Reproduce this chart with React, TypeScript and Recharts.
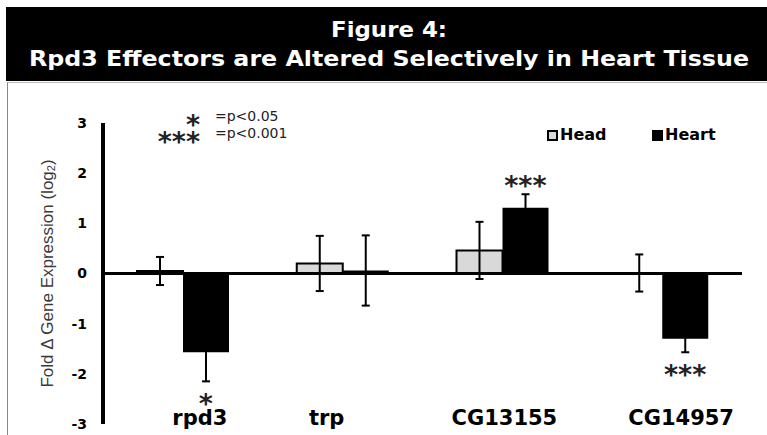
import React from "react";
import {
  BarChart,
  Bar,
  XAxis,
  YAxis,
  ErrorBar,
  ReferenceLine,
  ReferenceDot,
  Legend,
} from "recharts";

const genes = ["rpd3", "trp", "CG13155", "CG14957"];
const headVals = [0.05, 0.2, 0.46, 0.01];
const headErr = [0.28, 0.55, 0.57, 0.37];
const heartVals = [-1.57, 0.06, 1.31, -1.3];
const heartErr = [0.58, 0.7, 0.27, 0.27];
const heartSig = ["*", "", "***", "***"];
const yTicks = [-3, -2, -1, 0, 1, 2, 3];
const sigMarks = ["*", "***"];
const sigTexts = ["=p<0.05", "=p<0.001"];

const BAR = 46;
const STAR_GAP = 0.31; // distance past the error bar, in log2 units
const tickNudge = [17, -16, 2, 19];
const BOLD = "'DejaVu Sans', Verdana, sans-serif";
const PLOT = { left: 103, top: 123, bottom: 424 };

const rows = genes.map((g, i) => {
  const sign = heartVals[i] < 0 ? -1 : 1;
  return {
    gene: g,
    head: headVals[i],
    headErr: headErr[i],
    heart: heartVals[i],
    heartErr: heartErr[i],
    sig: heartSig[i],
    sigY: heartVals[i] + sign * (heartErr[i] + STAR_GAP),
  };
});

const GeneTick = (p: any) => (
  <text
    x={p.x + tickNudge[p.index]}
    y={p.y + 1}
    textAnchor="middle"
    fontFamily={BOLD}
    fontWeight="bold"
    fontSize={21}
    fill="#000"
  >
    {p.payload.value}
  </text>
);

const YTitle = (p: any) => {
  const vb = p.viewBox || {};
  const x0 = vb.x || 0;
  const y0 = vb.y || PLOT.top;
  const h = vb.height || PLOT.bottom - PLOT.top;
  const cx = x0 + 47;
  const cy = y0 + h / 2;
  return (
    <text
      x={cx}
      y={cy}
      transform={`rotate(-90 ${cx} ${cy})`}
      textAnchor="middle"
      dominantBaseline="central"
      fontFamily="'Liberation Sans', Arial, sans-serif"
      fontSize={17}
      fill="#3a3a3a"
    >
      Fold Δ Gene Expression (log
      <tspan fontSize={11} dy={4}>
        2
      </tspan>
      <tspan dy={-4}>)</tspan>
    </text>
  );
};

const LegendBox = (props: any) => (
  <div style={{ display: "flex" }}>
    {(props.payload || []).map((e: any) => (
      <div
        key={e.value}
        style={{ width: 105, display: "flex", alignItems: "center" }}
      >
        <span
          style={{
            width: 11,
            height: 11,
            boxSizing: "border-box",
            background: e.color,
            border: "2px solid #000",
            marginRight: 2,
          }}
        />
        <span
          style={{
            fontFamily: BOLD,
            fontWeight: "bold",
            fontSize: 16,
            color: "#000",
            lineHeight: "18px",
          }}
        >
          {e.value}
        </span>
      </div>
    ))}
  </div>
);

export default function App() {
  return (
    <div
      style={{
        position: "absolute",
        left: 0,
        top: 0,
        width: 767,
        height: 435,
        background: "#fff",
        overflow: "hidden",
      }}
    >
      <div
        style={{
          position: "absolute",
          left: 6,
          top: 7,
          width: 761,
          height: 74,
          background: "#000",
        }}
      >
        <svg width={761} height={74}>
          <text
            x={383}
            y={30}
            textAnchor="middle"
            fill="#fff"
            fontFamily={BOLD}
            fontWeight="bold"
            fontSize={22}
            textLength={116}
            lengthAdjust="spacingAndGlyphs"
          >
            Figure 4:
          </text>
          <text
            x={383}
            y={59}
            textAnchor="middle"
            fill="#fff"
            fontFamily={BOLD}
            fontWeight="bold"
            fontSize={22}
            textLength={720}
            lengthAdjust="spacingAndGlyphs"
          >
            Rpd3 Effectors are Altered Selectively in Heart Tissue
          </text>
        </svg>
      </div>
      <div
        style={{
          position: "absolute",
          left: 7,
          top: 82,
          width: 760,
          height: 353,
          borderLeft: "1px solid #888",
          borderTop: "1px solid #bbb",
        }}
      />
      <div style={{ position: "absolute", left: 0, top: 0 }}>
        <BarChart
          width={767}
          height={435}
          data={rows}
          margin={{ top: PLOT.top, right: 25, bottom: 10, left: 0 }}
          barGap={0}
          barSize={BAR}
        >
          <XAxis
            dataKey="gene"
            axisLine={false}
            tickLine={false}
            tickSize={0}
            tickMargin={0}
            height={1}
            interval={0}
            tick={<GeneTick />}
          />
          <YAxis
            domain={[-3, 3]}
            ticks={yTicks}
            interval={0}
            width={PLOT.left}
            stroke="#000"
            axisLine={{ stroke: "#000", strokeWidth: 3 }}
            tickLine={false}
            tickSize={8}
            tickMargin={8}
            tick={{
              fill: "#000",
              fontSize: 14,
              fontWeight: "bold",
              fontFamily: BOLD,
            }}
            label={YTitle}
          />
          <Legend
            layout="vertical"
            align="center"
            verticalAlign="middle"
            wrapperStyle={{ position: "absolute", left: 547, top: 126, width: 220 }}
            content={<LegendBox />}
          />
          <Bar
            dataKey="head"
            name="Head"
            fill="#d9d9d9"
            stroke="#000"
            strokeWidth={2}
            isAnimationActive={false}
          >
            <ErrorBar
              dataKey="headErr"
              direction="y"
              width={4}
              stroke="#000"
              strokeWidth={2}
            />
          </Bar>
          <Bar dataKey="heart" name="Heart" fill="#000" isAnimationActive={false}>
            <ErrorBar
              dataKey="heartErr"
              direction="y"
              width={4}
              stroke="#000"
              strokeWidth={2}
            />
          </Bar>
          <ReferenceLine y={0} stroke="#000" strokeWidth={3} />
          {rows
            .filter((r) => r.sig)
            .map((r) => (
              <ReferenceDot
                key={r.gene}
                x={r.gene}
                y={r.sigY}
                r={1}
                shape={(p: any) => (
                  <text
                    x={p.cx + BAR / 2}
                    y={p.cy}
                    dy="0.59em"
                    textAnchor="middle"
                    fontFamily={BOLD}
                    fontWeight="bold"
                    fontSize={27}
                    fill="#222"
                  >
                    {r.sig}
                  </text>
                )}
              />
            ))}
        </BarChart>
      </div>
      <svg
        width={767}
        height={435}
        style={{ position: "absolute", left: 0, top: 0, pointerEvents: "none" }}
      >
        <text
          textAnchor="end"
          fontFamily={BOLD}
          fontWeight="bold"
          fontSize={27}
          fill="#222"
        >
          {sigMarks.map((m, i) => (
            <tspan key={m} x={200} y={134 + i * 17}>
              {m}
            </tspan>
          ))}
        </text>
        <text fontFamily={BOLD} fontSize={14} fill="#222">
          {sigTexts.map((t, i) => (
            <tspan key={t} x={215} y={121 + i * 17}>
              {t}
            </tspan>
          ))}
        </text>
      </svg>
      {/* heavy y axis rule as a plain block on top of everything */}
      <div
        style={{
          position: "absolute",
          left: PLOT.left - 2,
          top: PLOT.top,
          width: 4,
          height: PLOT.bottom - PLOT.top,
          background: "#000",
          zIndex: 5,
        }}
      />
    </div>
  );
}
